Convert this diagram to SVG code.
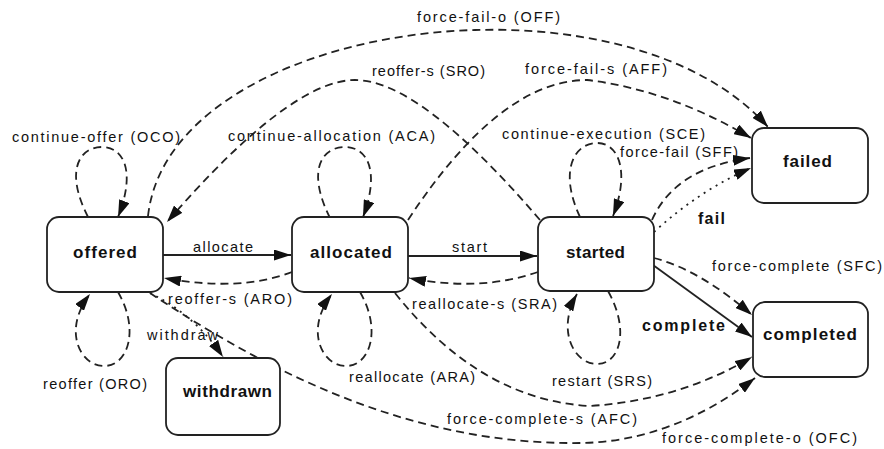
<svg xmlns="http://www.w3.org/2000/svg" width="884" height="449" viewBox="0 0 884 449">
  <style>
    .node rect { fill: #ffffff; stroke: #222; stroke-width: 1.8; }
    .node text { font-family: "Liberation Sans", Arial, sans-serif; font-weight: bold; font-size: 17px; fill: #111; }
    .edge { fill: none; stroke: #222; stroke-width: 1.8; }
    .solid { marker-end: url(#arrow); }
    .dashed { stroke-dasharray: 8 5; marker-end: url(#arrow); }
    .dotted { stroke-dasharray: 2 5; marker-end: url(#arrow); }
    .lbl { font-family: "Liberation Sans", Arial, sans-serif; font-size: 14.5px; fill: #111; }
    .lbl.b { font-weight: bold; font-size: 16px; }
  </style>
  <defs>
    <marker id="arrow" markerUnits="userSpaceOnUse" markerWidth="17" markerHeight="11" viewBox="0 0 17 11" refX="17" refY="5.5" orient="auto">
      <path d="M0,0 L17,5.5 L0,11 z" fill="#111"/>
    </marker>
  </defs>
  <rect width="884" height="449" fill="#ffffff"/>

  <!-- transitions -->
  <g id="connectors">
    <path class="edge solid" d="M 163 255 L 291 255"/>
    <path class="edge solid" d="M 408 256 L 537 256"/>
    <path class="edge dashed" d="M 292 272 Q 240 292 164 278"/>
    <path class="edge dashed" d="M 538 272 Q 480 292 409 278"/>
    <path class="edge solid" d="M 653 265 L 752 337"/>
    <path class="edge dashed" d="M 654 258 Q 700 270 752 315"/>
    <path class="edge dotted" d="M 654 232 Q 700 190 751 168"/>
    <path class="edge dashed" d="M 652 220 Q 675 168 750 158"/>
    <path class="edge dashed" d="M 408 220 Q 500 80 587 80 Q 670 90 751 138"/>
    <path class="edge dashed" d="M 148 216 C 170 20 620 -40 768 127"/>
    <path class="edge dashed" d="M 540 220 Q 420 80 355 80 Q 290 80 167 222"/>
    <path class="edge dashed" d="M 395 293 Q 480 400 590 406 Q 680 400 752 357"/>
    <path class="edge dashed" d="M 150 293 C 280 380 420 445 580 443 C 660 442 720 405 755 378"/>
    <path class="edge dotted" d="M 150 293 Q 195 315 223 357"/>
    <!-- self loops -->
    <path class="edge dashed" d="M 88 217 C 64 170 80 147 102 147 C 124 147 136 172 118 217"/>
    <path class="edge dashed" d="M 330 218 C 306 170 322 147 345 147 C 368 147 380 172 363 217"/>
    <path class="edge dashed" d="M 580 217 C 558 170 575 143 597 143 C 619 143 630 172 613 216"/>
    <path class="edge dashed" d="M 118 292 C 140 330 128 366 104 366 C 80 366 62 330 90 294"/>
    <path class="edge dashed" d="M 360 292 C 382 330 370 366 346 366 C 322 366 304 330 332 294"/>
    <path class="edge dashed" d="M 608 291 C 630 330 620 364 597 364 C 574 364 556 330 577 294"/>
  </g>

  <!-- transition labels -->
  <g id="labels">
    <text class="lbl" x="417" y="22" textLength="143" lengthAdjust="spacing">force-fail-o (OFF)</text>
    <text class="lbl" x="372" y="76" textLength="113" lengthAdjust="spacing">reoffer-s (SRO)</text>
    <text class="lbl" x="525" y="74" textLength="142" lengthAdjust="spacing">force-fail-s (AFF)</text>
    <text class="lbl" x="12" y="142" textLength="168" lengthAdjust="spacing">continue-offer (OCO)</text>
    <text class="lbl" x="228" y="141" textLength="207" lengthAdjust="spacing">continue-allocation (ACA)</text>
    <text class="lbl" x="502" y="139" textLength="203" lengthAdjust="spacing">continue-execution (SCE)</text>
    <text class="lbl" x="620" y="157" textLength="118" lengthAdjust="spacing">force-fail (SFF)</text>
    <text class="lbl b" x="698" y="224" textLength="27" lengthAdjust="spacing">fail</text>
    <text class="lbl" x="193" y="252" textLength="60" lengthAdjust="spacing">allocate</text>
    <text class="lbl" x="452" y="252" textLength="35" lengthAdjust="spacing">start</text>
    <text class="lbl" x="168" y="304" textLength="124" lengthAdjust="spacing">reoffer-s (ARO)</text>
    <text class="lbl" x="412" y="309" textLength="145" lengthAdjust="spacing">reallocate-s (SRA)</text>
    <text class="lbl" x="712" y="271" textLength="170" lengthAdjust="spacing">force-complete (SFC)</text>
    <text class="lbl b" x="642" y="331" textLength="83" lengthAdjust="spacing">complete</text>
    <text class="lbl" x="147" y="340" textLength="71" lengthAdjust="spacing">withdraw</text>
    <text class="lbl" x="43" y="389" textLength="104" lengthAdjust="spacing">reoffer (ORO)</text>
    <text class="lbl" x="349" y="382" textLength="126" lengthAdjust="spacing">reallocate (ARA)</text>
    <text class="lbl" x="552" y="386" textLength="100" lengthAdjust="spacing">restart (SRS)</text>
    <text class="lbl" x="447" y="424" textLength="190" lengthAdjust="spacing">force-complete-s (AFC)</text>
    <text class="lbl" x="662" y="443" textLength="195" lengthAdjust="spacing">force-complete-o (OFC)</text>
  </g>

  <!-- states -->
  <g id="offered" class="node">
    <rect x="47" y="217" width="116" height="75" rx="12"/>
    <text x="73" y="258" textLength="64" lengthAdjust="spacing">offered</text>
  </g>
  <g id="allocated" class="node">
    <rect x="292" y="217" width="116" height="75" rx="12"/>
    <text x="310" y="258" textLength="82" lengthAdjust="spacing">allocated</text>
  </g>
  <g id="started" class="node">
    <rect x="538" y="217" width="116" height="74" rx="12"/>
    <text x="566" y="258" textLength="59" lengthAdjust="spacing">started</text>
  </g>
  <g id="failed" class="node">
    <rect x="752" y="128" width="116" height="75" rx="12"/>
    <text x="783" y="167" textLength="49" lengthAdjust="spacing">failed</text>
  </g>
  <g id="completed" class="node">
    <rect x="753" y="302" width="115" height="75" rx="12"/>
    <text x="763" y="340" textLength="94" lengthAdjust="spacing">completed</text>
  </g>
  <g id="withdrawn" class="node">
    <rect x="166" y="358" width="114" height="77" rx="12"/>
    <text x="183" y="397" textLength="89" lengthAdjust="spacing">withdrawn</text>
  </g>
</svg>
